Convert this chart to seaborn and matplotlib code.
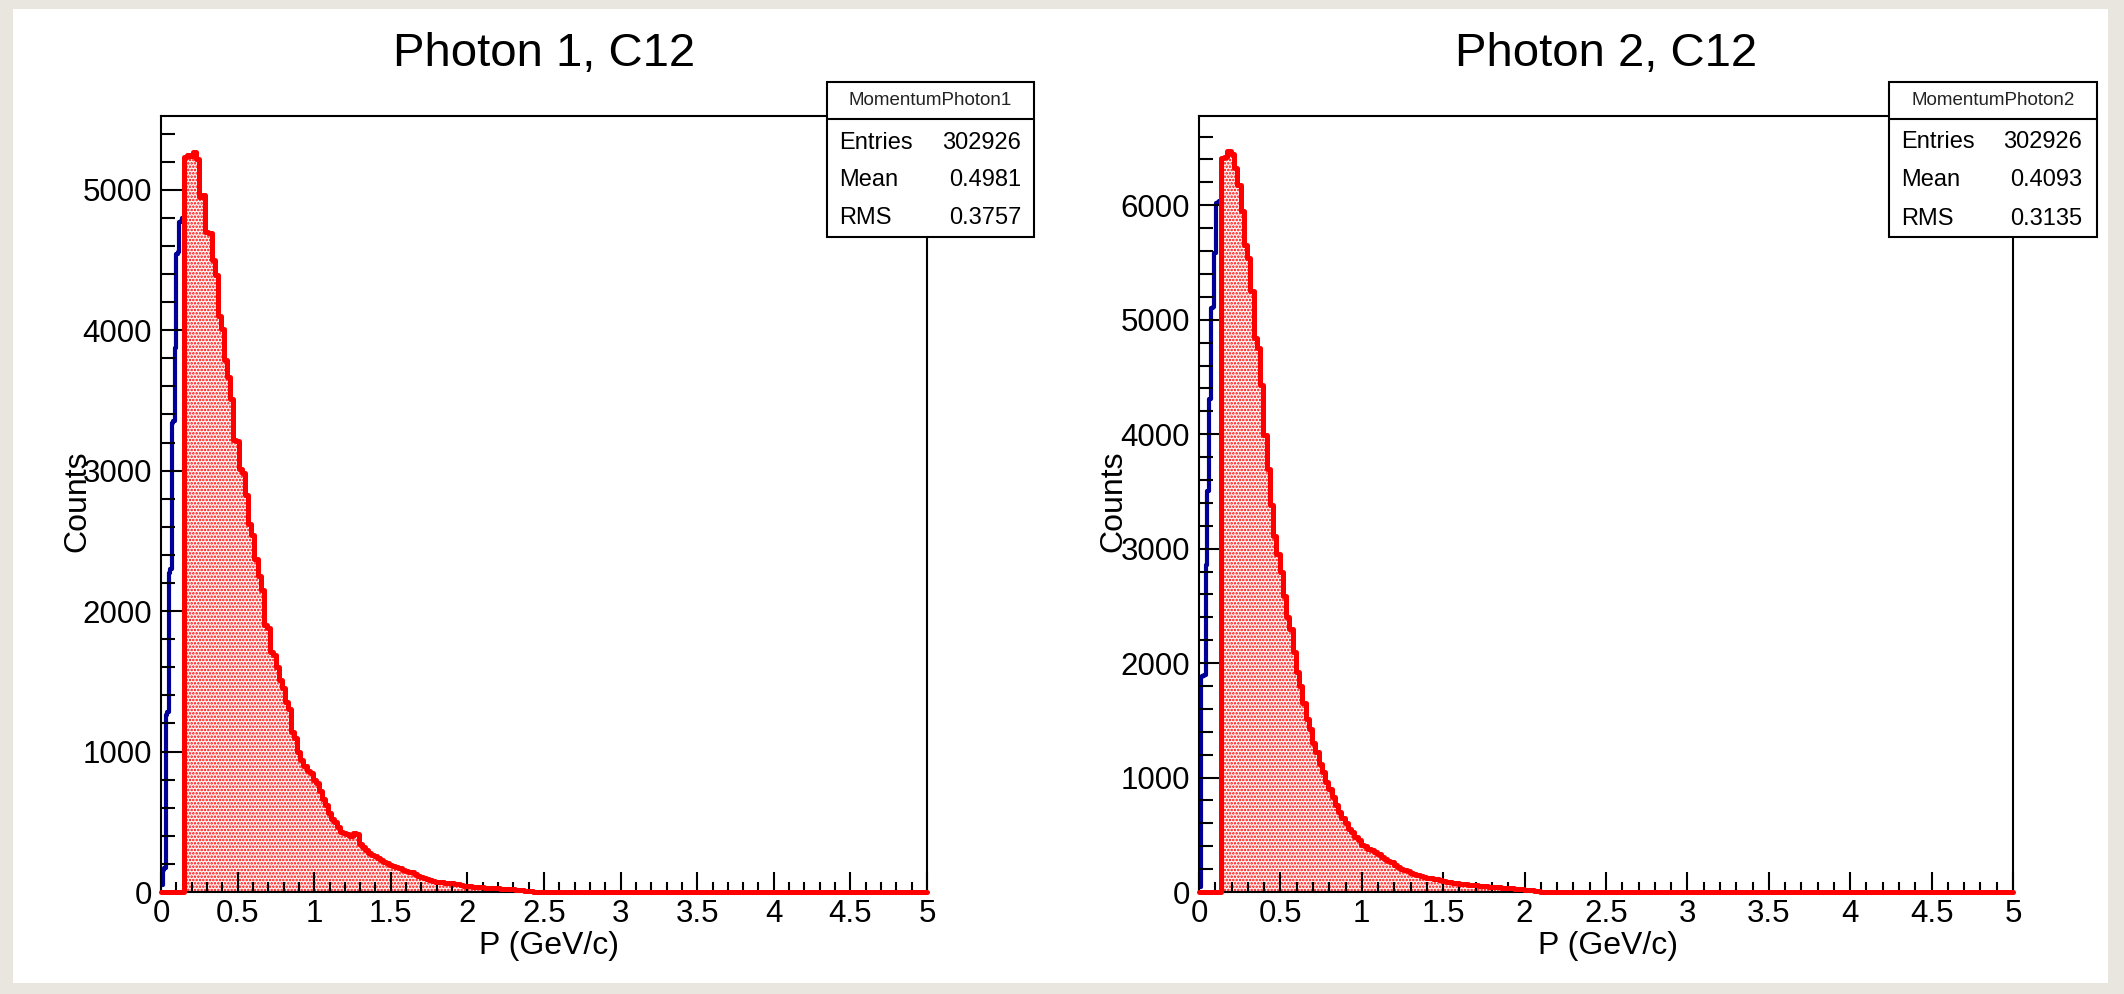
import numpy as np
import pandas as pd
import matplotlib
matplotlib.use("Agg")
import matplotlib.pyplot as plt
import seaborn as sns
from matplotlib.patches import Rectangle
from matplotlib.lines import Line2D
from matplotlib.ticker import MultipleLocator

# ---------------- data ----------------
TITLES = ["Photon 1, C12", "Photon 2, C12"]
STAT_NAMES = ["MomentumPhoton1", "MomentumPhoton2"]
STAT_LABELS = ["Entries", "Mean", "RMS"]
STAT_VALUES_1 = ["302926", "0.4981", "0.3757"]
STAT_VALUES_2 = ["302926", "0.4093", "0.3135"]
X_LABEL = "P (GeV/c)"
Y_LABEL = "Counts"
X_TICKS = [0, 0.5, 1, 1.5, 2, 2.5, 3, 3.5, 4, 4.5, 5]
X_TICK_LABELS = ["0", "0.5", "1", "1.5", "2", "2.5", "3", "3.5", "4", "4.5", "5"]
Y_TICKS_1 = [0, 1000, 2000, 3000, 4000, 5000]
Y_TICKS_2 = [0, 1000, 2000, 3000, 4000, 5000, 6000]

# momentum cut where the red (selected) histogram starts
CUT_1 = 0.15
CUT_2 = 0.135

# blue histogram (below the cut), counts per bin
BLUE_1 = [50, 160, 170, 1260, 1280, 2270, 2300, 3340, 3350, 3870, 4540, 4560, 4770, 4780, 4800]
BLUE_2 = [40, 1880, 1890, 1900, 2860, 3500, 4310, 5100, 5110, 5580, 6020, 6030, 6040]

# red histogram (above the cut), 0.02 GeV/c bins
RED_1 = [5230, 5250, 5240, 5270, 5220, 4950, 4960, 4700, 4690, 4500,
         4390, 4100, 4010, 3790, 3670, 3510, 3220, 3210, 3010, 2980,
         2830, 2620, 2540, 2370, 2250, 2150, 1900, 1880, 1710, 1690,
         1600, 1510, 1450, 1350, 1300, 1140, 1100, 1000, 940, 900,
         860, 850, 800, 775, 720, 660, 620, 560, 520, 500,
         460, 430, 420, 410, 400, 420, 410, 340, 320, 300,
         280, 265, 255, 240, 225, 215, 205, 195, 185, 178,
         170, 160, 150, 145, 140, 125, 115, 105, 100, 95,
         85, 78, 74, 70, 68, 67, 66, 64, 60, 55,
         50, 45, 43, 40, 38, 37, 36, 34, 32, 30,
         28, 27, 25, 24, 22, 21, 20, 18, 17, 15,
         12, 10, 8, 5, 3, 2, 1]
RED_2 = [6410, 6420, 6470, 6450, 6330, 6180, 5950, 5650, 5540, 5250,
         4840, 4750, 4430, 3990, 3700, 3380, 3110, 2950, 2800, 2590,
         2400, 2300, 2100, 1920, 1800, 1650, 1510, 1420, 1300, 1220,
         1120, 1050, 960, 900, 830, 760, 700, 650, 600, 550,
         520, 480, 450, 415, 400, 380, 365, 350, 330, 310,
         290, 270, 260, 240, 220, 200, 190, 180, 165, 155,
         148, 140, 132, 125, 120, 115, 110, 102, 95, 90,
         86, 82, 78, 74, 71, 69, 65, 62, 58, 56,
         54, 50, 47, 44, 42, 40, 38, 36, 34, 32,
         30, 27, 24, 20, 17, 14, 10, 7, 4, 2]

RED_BIN = 0.02
X_MAX = 5.0
Y_MAX_1 = 5525
Y_MAX_2 = 6780

# ---------------- style ----------------
W, H = 2124, 994
sns.set_theme(style="white")
plt.rcParams["font.family"] = ["Liberation Sans", "DejaVu Sans"]
plt.rcParams["hatch.color"] = "#ff0000"
plt.rcParams["hatch.linewidth"] = 1.2

RED = "#ff0000"
BLUE = "#000099"
BG = "#e9e6e0"

fig = plt.figure(figsize=(W / 100, H / 100), dpi=100, facecolor=BG)


def fx(x):
    return x / W


def fy(y):
    return 1 - y / H


# white canvas
fig.add_artist(Rectangle((fx(13), fy(983)), fx(2108) - fx(13), fy(9) - fy(983),
                         transform=fig.transFigure, facecolor="white",
                         edgecolor="none", zorder=-10))

PANELS = [
    dict(box=(161, 116, 927, 892), title=TITLES[0], blue=BLUE_1, red=RED_1,
         cut=CUT_1, ymax=Y_MAX_1, yticks=Y_TICKS_1, stat=STAT_NAMES[0],
         vals=STAT_VALUES_1, sbox=(827, 82, 1034, 237, 119),
         srows=(143, 180, 218), sx=(839, 1021), ylab_x=77, xlab_x=549),
    dict(box=(1199, 116, 2013, 892), title=TITLES[1], blue=BLUE_2, red=RED_2,
         cut=CUT_2, ymax=Y_MAX_2, yticks=Y_TICKS_2, stat=STAT_NAMES[1],
         vals=STAT_VALUES_2, sbox=(1889, 82, 2097, 237, 119),
         srows=(142, 180, 219), sx=(1901, 2082), ylab_x=1113, xlab_x=1608),
]

for p in PANELS:
    x0, y0, x1, y1 = p["box"]
    ax = fig.add_axes([fx(x0), fy(y1), fx(x1) - fx(x0), fy(y0) - fy(y1)])
    ax.set_facecolor("white")

    # blue histogram
    blue = np.asarray(p["blue"], dtype=float)
    b_edges = np.linspace(0, p["cut"], len(blue) + 1)
    df_b = pd.DataFrame({"p": 0.5 * (b_edges[:-1] + b_edges[1:]), "w": blue})
    sns.histplot(data=df_b, x="p", weights="w", bins=b_edges.tolist(), element="step",
                 fill=False, color=BLUE, linewidth=3.0, ax=ax)

    # red histogram (zeros outside the selected range)
    red = np.asarray(p["red"], dtype=float)
    r_edges = np.concatenate([[0.0], p["cut"] + RED_BIN * np.arange(len(red) + 1), [X_MAX]])
    r_vals = np.concatenate([[0.0], red, [0.0]])
    df_r = pd.DataFrame({"p": 0.5 * (r_edges[:-1] + r_edges[1:]), "w": r_vals})
    n_before = len(ax.collections)
    sns.histplot(data=df_r, x="p", weights="w", bins=r_edges.tolist(), element="step",
                 fill=True, color=RED, linewidth=0, ax=ax)
    for coll in ax.collections[n_before:]:
        coll.set_alpha(1)
        coll.set_facecolor("#fff6f6")
        coll.set_edgecolor(RED)
        coll.set_linewidth(0)
        coll.set_hatch(".....")
        coll.set_zorder(1)
    n_lines = len(ax.lines)
    sns.histplot(data=df_r, x="p", weights="w", bins=r_edges.tolist(), element="step",
                 fill=False, color=RED, linewidth=3.6, ax=ax)
    for ln in ax.lines[n_lines:]:
        ln.set_zorder(3)
        ln.set_clip_on(False)

    ax.set_xlim(0, X_MAX)
    ax.set_ylim(0, p["ymax"])
    ax.set_xticks(X_TICKS)
    ax.set_xticklabels(X_TICK_LABELS)
    ax.set_yticks(p["yticks"])
    ax.set_yticklabels([str(v) for v in p["yticks"]])
    ax.xaxis.set_minor_locator(MultipleLocator(0.1))
    ax.yaxis.set_minor_locator(MultipleLocator(200))
    ax.set_axisbelow(False)
    ax.tick_params(which="both", direction="in", top=False, right=False,
                   bottom=True, left=True, color="black", width=1.5,
                   labelsize=22.5, labelcolor="black")
    ax.tick_params(axis="x", which="major", length=14.4, pad=5)
    ax.tick_params(axis="x", which="minor", length=7.2)
    ax.tick_params(axis="y", which="major", length=15.8, pad=6.5)
    ax.tick_params(axis="y", which="minor", length=10)
    for s in ax.spines.values():
        s.set_visible(True)
        s.set_color("black")
        s.set_linewidth(1.5)

    ax.set_xlabel(X_LABEL, fontsize=23, color="black")
    ax.set_ylabel(Y_LABEL, fontsize=23, color="black")
    aw, ah = x1 - x0, y1 - y0
    ax.xaxis.set_label_coords((p["xlab_x"] - x0) / aw, (y1 - 946) / ah)
    ax.xaxis.label.set_verticalalignment("center")
    ax.yaxis.set_label_coords((p["ylab_x"] - x0) / aw, (y1 - 501) / ah)
    ax.yaxis.label.set_verticalalignment("center")

    # title
    fig.text(fx((x0 + x1) / 2), fy(54), p["title"], ha="center", va="center",
             fontsize=34, color="black")

    # stats box
    bx0, by0, bx1, by1, bsep = p["sbox"]
    fig.add_artist(Rectangle((fx(bx0), fy(by1)), fx(bx1) - fx(bx0), fy(by0) - fy(by1),
                             transform=fig.transFigure, facecolor="white",
                             edgecolor="black", linewidth=1.5, zorder=5))
    fig.add_artist(Line2D([fx(bx0), fx(bx1)], [fy(bsep), fy(bsep)],
                          transform=fig.transFigure, color="black",
                          linewidth=1.5, zorder=6))
    fig.text(fx((bx0 + bx1) / 2), fy((by0 + bsep) / 2), p["stat"], ha="center",
             va="center", fontsize=13.5, color="#222222", zorder=7)
    for lab, val, ry in zip(STAT_LABELS, p["vals"], p["srows"]):
        fig.text(fx(p["sx"][0]), fy(ry), lab, ha="left", va="center",
                 fontsize=17, color="black", zorder=7)
        fig.text(fx(p["sx"][1]), fy(ry), val, ha="right", va="center",
                 fontsize=17, color="black", zorder=7)

fig.savefig("out.png", dpi=100, facecolor=BG)
